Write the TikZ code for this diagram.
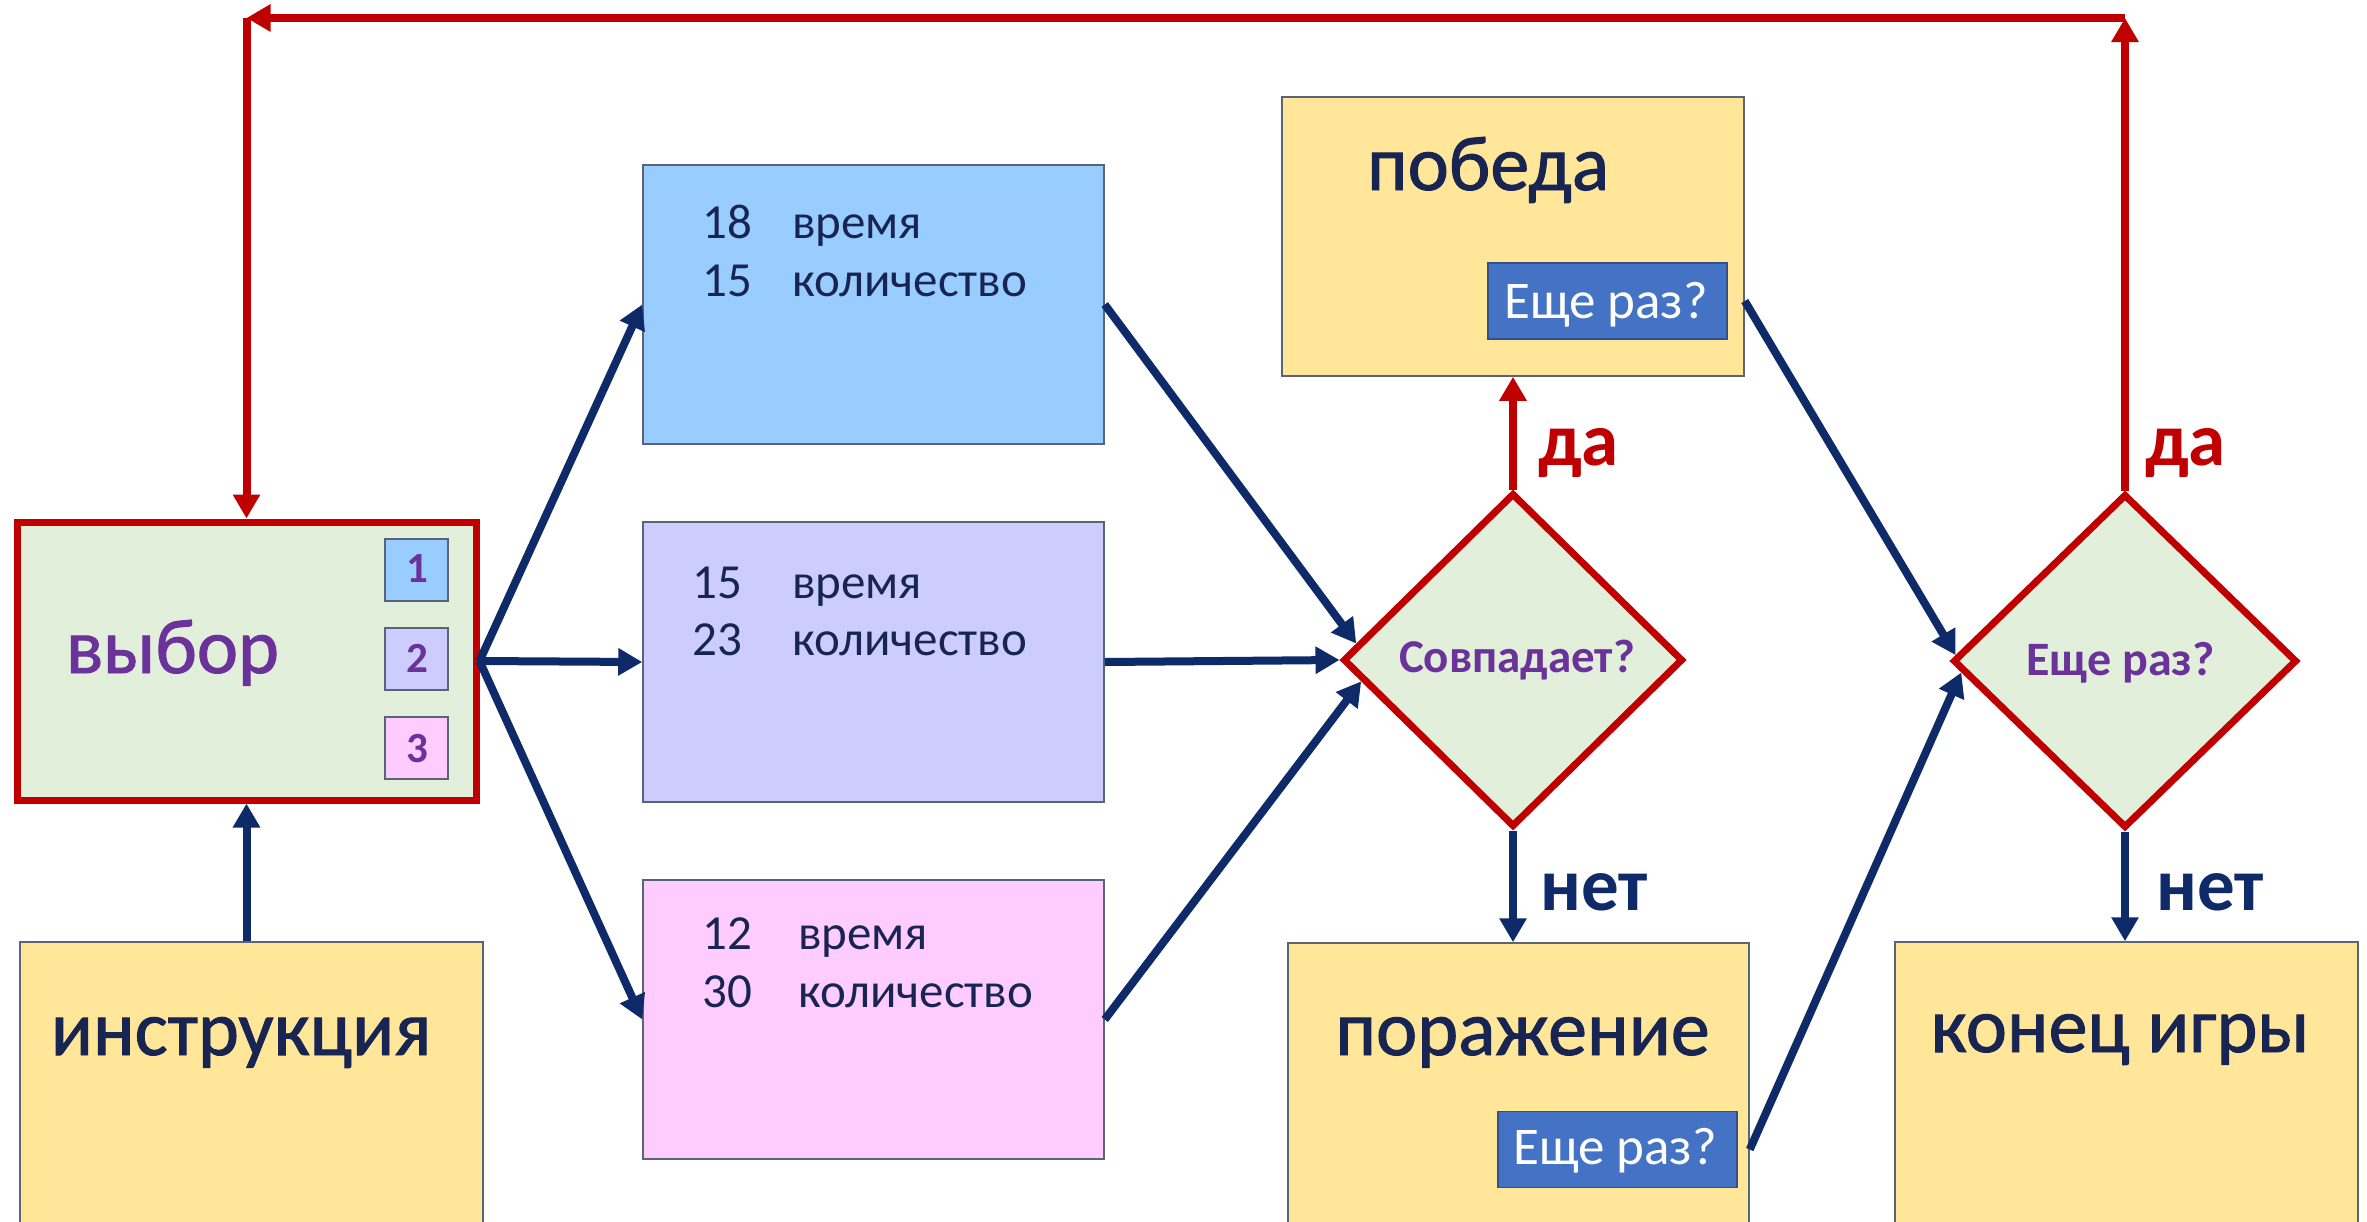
\documentclass[tikz,border=0pt]{standalone}
\usepackage{fontspec}
\setmainfont{Carlito}
\newfontfamily\heavyfont[FakeBold=1.2]{Carlito}
\usetikzlibrary{arrows.meta,shapes.geometric}
\definecolor{cnavy}{HTML}{0F2A68}
\definecolor{ctext}{HTML}{182552}
\definecolor{cred}{HTML}{C00000}
\definecolor{cpurple}{HTML}{6A329A}
\definecolor{cborder}{HTML}{5A6478}
\definecolor{cyellow}{HTML}{FFE699}
\definecolor{cgreen}{HTML}{E2EFDA}
\definecolor{cblue}{HTML}{99CCFF}
\definecolor{clav}{HTML}{CCCCFF}
\definecolor{cpink}{HTML}{FFCCFF}
\definecolor{cbtn}{HTML}{4472C4}
\definecolor{cbtnb}{HTML}{2F528F}
\newcommand\fSmall{\fontsize{49}{58}\selectfont}
\newcommand\fTitle{\heavyfont\fontsize{78}{92}\selectfont}
\begin{document}
\begin{tikzpicture}[x=1pt,y=-1pt,
  boxnode/.style={draw=cborder,line width=1.5pt,inner sep=0pt},
  decision/.style={shape=diamond,draw=cred,line width=7pt,fill=cgreen,inner sep=0pt},
  btn/.style={draw=cbtnb,line width=1.2pt,fill=cbtn,inner sep=0pt,minimum width=239pt,minimum height=76pt},
  numsq/.style={draw=cborder,line width=1.5pt,inner sep=0pt,minimum width=63pt,minimum height=62pt},
  txt/.style={inner sep=0pt,anchor=base west,text=ctext,font=\fSmall},
  title/.style={inner sep=0pt,anchor=base,text=ctext,font=\fTitle},
  narrow/.style={draw=cnavy,line width=8pt,-{Triangle[length=24pt,width=26pt]}},
  rarrow/.style={draw=cred,line width=8pt,-{Triangle[length=24pt,width=26pt]}},
  yes/.style={inner sep=0pt,anchor=base west,text=cred,font=\fontsize{75}{90}\selectfont\bfseries},
  no/.style={inner sep=0pt,anchor=base west,text=cnavy,font=\fontsize{75}{90}\selectfont\bfseries}
]
\clip (0,0) rectangle (2367,1221);
\fill[white] (0,0) rectangle (2367,1221);

% boxes
\node[boxnode,fill=cyellow,minimum width=463pt,minimum height=298pt] (instr) at (251.5,1091) {};
\node[draw=cred,line width=7pt,fill=cgreen,inner sep=0pt,minimum width=459pt,minimum height=278pt] (vybor) at (246.5,661) {};
\node[boxnode,fill=cblue,minimum width=461pt,minimum height=279pt] (b1) at (873.5,304.5) {};
\node[boxnode,fill=clav,minimum width=461pt,minimum height=280pt] (b2) at (873.5,662) {};
\node[boxnode,fill=cpink,minimum width=461pt,minimum height=279pt] (b3) at (873.5,1019.5) {};
\node[boxnode,fill=cyellow,minimum width=462pt,minimum height=279pt] (pobeda) at (1513,236.5) {};
\node[boxnode,fill=cyellow,minimum width=461pt,minimum height=298pt] (porazh) at (1518.5,1092) {};
\node[boxnode,fill=cyellow,minimum width=463pt,minimum height=298pt] (konec) at (2126.5,1091) {};
\node[decision,minimum width=340pt,minimum height=334pt] (d1) at (1513,660) {};
\node[decision,minimum width=344pt,minimum height=334pt] (d2) at (2125,661) {};

% buttons
\node[btn] (btn1) at (1607.5,301) {};
\node[btn] (btn2) at (1617.5,1149.5) {};
\node[inner sep=0pt,anchor=base,text=white,font=\fontsize{53}{60}\selectfont] (btn1t) at (1606,318) {Еще раз?};
\node[inner sep=0pt,anchor=base,text=white,font=\fontsize{53}{60}\selectfont] (btn2t) at (1615,1164) {Еще раз?};

% number squares
\node[numsq,fill=cblue] (sq1) at (416.5,570) {};
\node[numsq,fill=clav] (sq2) at (416.5,659) {};
\node[numsq,fill=cpink] (sq3) at (416.5,748) {};
\node[inner sep=0pt,anchor=base,text=cpurple,font=\fontsize{43}{50}\selectfont\bfseries] (sq1t) at (417,582) {1};
\node[inner sep=0pt,anchor=base,text=cpurple,font=\fontsize{43}{50}\selectfont\bfseries] (sq2t) at (417,672) {2};
\node[inner sep=0pt,anchor=base,text=cpurple,font=\fontsize{43}{50}\selectfont\bfseries] (sq3t) at (417,762) {3};

% titles
\node[title,text=cpurple,font=\heavyfont\fontsize{78}{90}\selectfont] (vyborT) at (172.5,673) {выбор};
\node[title] (pobedaT) at (1488,190) {победа};
\node[title] (porazhT) at (1522.5,1055) {поражение};
\node[title] (instrT) at (241,1055) {инструкция};
\node[title] (konecT) at (2120,1052) {конец игры};

% box texts
\node[txt] (n11) at (702,238) {18};
\node[txt] (w11) at (792,238) {время};
\node[txt] (n12) at (702,296) {15};
\node[txt] (w12) at (792,296) {количество};
\node[txt] (n21) at (692,598) {15};
\node[txt] (w21) at (792,598) {время};
\node[txt] (n22) at (692,655) {23};
\node[txt] (w22) at (792,655) {количество};
\node[txt] (n31) at (702,949) {12};
\node[txt] (w31) at (798,949) {время};
\node[txt] (n32) at (702,1007) {30};
\node[txt] (w32) at (798,1007) {количество};

% decision texts
\node[inner sep=0pt,anchor=base,text=cpurple,font=\fontsize{47}{54}\selectfont\bfseries] (d1t) at (1517,672) {Совпадает?};
\node[inner sep=0pt,anchor=base,text=cpurple,font=\fontsize{48}{56}\selectfont\bfseries] (d2t) at (2120.5,675) {Еще раз?};

% labels
\node[yes] (yes1) at (1538,465) {да};
\node[yes] (yes2) at (2145,465) {да};
\node[no] (no1) at (1540,910) {нет};
\node[no] (no2) at (2156,910) {нет};

% connectors
\coordinate (topy) at (0,18);
\coordinate (cTR) at (d2.north |- topy);
\coordinate (cTL) at (vybor.north |- topy);
\draw[narrow] (vybor.south |- instr.north) -- (vybor.south);
\draw[narrow] (vybor.east) -- (b1.west);
\draw[narrow] (vybor.east) -- (b2.west);
\draw[narrow] (vybor.east) -- (b3.west);
\draw[narrow] (b1.east) -- (d1.174);
\draw[narrow] (b2.east) -- (d1.west);
\draw[narrow] (b3.east) -- (d1.188);
\draw[rarrow] (d1.north) -- (pobeda.south);
\draw[narrow] (d1.south) -- (d1.south |- porazh.north);
\draw[narrow] (pobeda.east |- btn1.center) -- (d2.178);
\draw[narrow] (porazh.east |- btn2.center) -- (d2.184);
\draw[narrow] (d2.south) -- (d2.south |- konec.north);
\draw[rarrow] (d2.north) -- (cTR);
\draw[rarrow] (cTR) -- (cTL);
\draw[rarrow] (cTL) -- (vybor.north);
\end{tikzpicture}
\end{document}
